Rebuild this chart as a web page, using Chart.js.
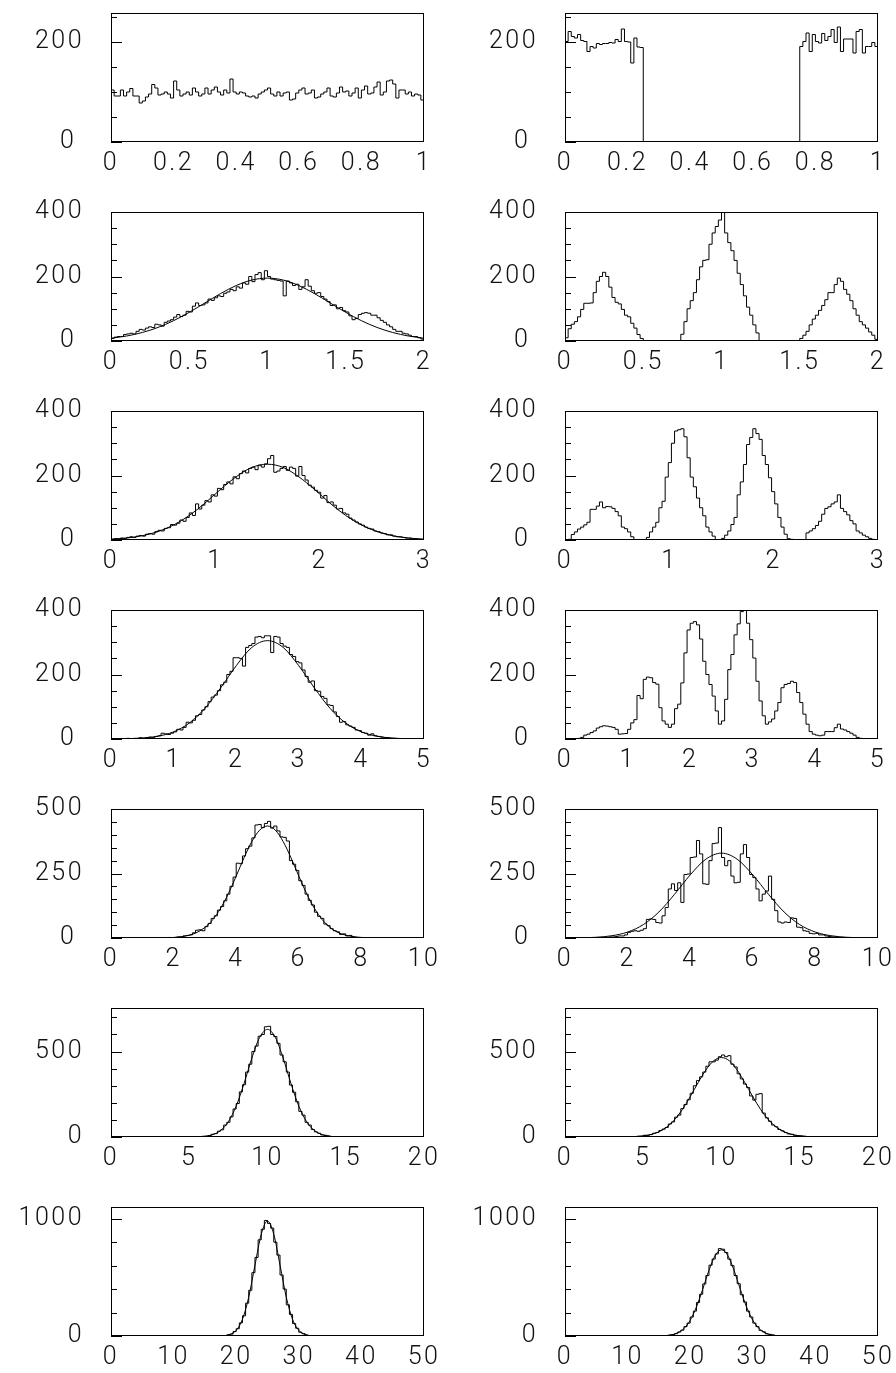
<!DOCTYPE html>
<html><head><meta charset="utf-8">
<script src="https://cdn.jsdelivr.net/npm/chart.js@4/dist/chart.umd.min.js"></script>
<style>
html,body{margin:0;padding:0;background:#fff;overflow:hidden;width:896px;height:1373px;position:relative;}
canvas{position:absolute;}
</style></head><body>
<script>
// ---------------- DATA ----------------
// tick values / labels
const xTicks1 = [0,0.2,0.4,0.6,0.8,1];
const xTicks2 = [0,0.5,1,1.5,2];
const xTicks3 = [0,1,2,3];
const xTicks4 = [0,1,2,3,4,5];
const xTicks5 = [0,2,4,6,8,10];
const xTicks6 = [0,5,10,15,20];
const xTicks7 = [0,10,20,30,40,50];
const yTicks1 = [0,50,100,150,200,250];           const yLabels1 = [0,200];
const yTicks2 = [0,50,100,150,200,250,300,350,400]; const yLabels2 = [0,200,400];
const yTicks3 = [0,50,100,150,200,250,300,350,400]; const yLabels3 = [0,200,400];
const yTicks4 = [0,50,100,150,200,250,300,350,400]; const yLabels4 = [0,200,400];
const yTicks5 = [0,50,100,150,200,250,300,350,400,450,500]; const yLabels5 = [0,250,500];
const yTicks6 = [0,100,200,300,400,500,600,700];  const yLabels6 = [0,500];
const yTicks7 = [0,200,400,600,800,1000];         const yLabels7 = [0,1000];

// histogram contents (100 bins each)
const h1L = [104,92,92,104,92,100,107,92,92,78,82,90,96,115,108,94,96,100,96,88,122,104,92,96,100,94,108,100,92,96,108,96,104,110,100,94,104,98,126,100,96,100,98,92,90,92,88,96,100,104,108,96,92,100,92,98,100,84,86,98,104,108,96,98,104,88,90,96,100,108,92,90,98,110,100,102,92,98,108,88,104,112,96,98,110,120,94,100,122,124,116,88,104,104,96,100,92,96,94,84];
const h1R = [201,221,211,208,215,203,201,181,191,188,197,195,197,197,199,198,205,201,226,201,200,158,208,190,189,
 0,0,0,0,0,0,0,0,0,0,0,0,0,0,0,0,0,0,0,0,0,0,0,0,0,0,0,0,0,0,0,0,0,0,0,0,0,0,0,0,0,0,0,0,0,0,0,0,0,0,
 191,201,218,181,215,201,198,217,203,211,225,199,230,181,206,206,206,178,221,225,178,191,191,199,191];
const h2L = [8,12,14,14,20,22,24,22,30,36,34,40,44,42,52,50,46,58,62,66,74,82,76,80,92,90,108,118,110,112,118,130,126,134,140,138,148,152,160,156,168,164,180,176,200,184,206,212,190,218,
 200,192,190,188,186,140,186,180,172,176,160,168,190,170,156,148,150,138,130,122,110,112,100,104,94,90,78,66,70,82,86,88,86,80,80,72,64,58,50,44,36,30,30,24,22,18,14,14,10,6];
const h2R = [10,38,52,60,75,98,117,117,118,150,185,200,213,200,167,135,120,115,98,80,75,55,40,20,8,
 0,0,0,0,0,0,0,0,0,0,0,0,
 21,60,100,125,150,190,230,250,252,300,335,355,375,400,335,305,280,250,210,175,140,105,80,50,25,
 0,0,0,0,0,0,0,0,0,0,0,0,0,
 8,18,30,50,68,80,95,110,128,150,150,175,195,185,160,145,125,100,80,60,50,40,28,18,5];
const h3L = [2,4,3,6,5,8,10,8,12,14,12,18,20,18,26,30,28,36,38,48,46,52,62,58,70,84,76,112,96,108,122,118,140,136,160,156,172,180,174,196,190,206,214,208,222,226,218,232,226,236,
 252,262,210,214,222,228,216,226,222,198,228,200,186,170,164,154,148,130,138,116,118,108,96,98,84,80,68,62,56,50,46,40,36,34,28,26,22,20,16,16,12,10,10,8,6,6,4,4,2,2];
const h3R = [0,2,17,25,34,40,47,55,95,95,105,118,100,104,103,98,88,75,40,35,25,10,0,0,0,0,8,25,40,55,
 100,120,195,240,300,338,342,345,320,255,195,165,130,100,75,40,25,12,0,0,5,15,28,48,70,140,180,234,296,318,
 345,330,312,262,234,193,150,112,70,40,18,4,2,0,0,0,0,22,28,35,45,58,80,98,103,112,118,140,98,88,
 78,60,50,28,22,15,10,5,2,0];
const h4L = [0,0,0,0,0,2,0,2,2,4,2,4,6,4,8,10,18,16,14,18,22,30,28,36,52,50,58,72,76,90,100,116,130,136,150,168,176,200,210,252,252,250,226,284,290,296,316,318,314,320,
 320,268,318,316,296,288,284,262,256,240,236,214,194,176,180,150,148,132,126,106,104,84,70,52,54,44,40,36,28,26,20,18,12,16,10,8,6,4,4,2,2,0,0,0,0,0,0,0,0,0];
const h4R = [0,0,0,0,2,5,12,15,20,25,34,38,41,40,38,36,30,15,16,17,30,50,60,135,125,185,192,190,175,170,
 97,56,46,36,46,94,108,174,267,338,359,364,354,310,241,200,169,133,87,46,56,123,215,262,323,357,395,400,359,308,
 251,179,118,72,46,53,62,87,113,159,169,172,179,175,144,113,77,46,23,15,12,10,12,23,23,23,35,46,31,28,
 23,18,12,5,2,0,0,0,0,0];
const h5L = [0,0,0,0,0,0,0,0,0,0,0,0,0,0,0,0,0,
 0,2,0,2,4,4,8,10,12,20,30,32,28,44,56,76,86,108,122,144,170,200,236,290,288,318,346,356,388,438,440,428,444,
 452,426,434,415,392,390,376,300,286,262,222,204,170,146,128,100,84,76,54,48,36,28,24,14,16,8,10,4,2,2,2,
 0,0,0,0,0,0,0,0,0,0,0,0,0,0,0,0,0,0,0];
const h5R = [0,0,0,0,0,0,0,0,0,0,2,0,2,2,4,4,6,8,8,12,22,26,28,26,30,36,72,74,72,60,
 58,86,118,190,210,184,214,138,246,248,312,314,378,326,210,208,300,366,368,428,
 312,280,300,240,214,216,326,362,312,246,234,190,144,170,182,240,150,106,62,58,
 62,60,78,76,42,40,28,26,18,16,18,12,12,8,6,4,4,2,2,0,0,0,0,0,0,0,0,0,0,0];
const h6L = [0,0,0,0,0,0,0,0,0,0,0,0,0,0,0,0,0,0,0,0,0,0,0,0,0,0,0,0,
 2,4,4,8,16,20,34,42,70,86,118,164,196,264,306,380,426,500,532,590,600,645,
 648,600,588,548,480,440,380,304,262,206,150,128,86,70,44,30,22,12,10,6,2,2,
 0,0,0,0,0,0,0,0,0,0,0,0,0,0,0,0,0,0,0,0,0,0,0,0,0,0,0,0];
const h6R = [0,0,0,0,0,0,0,0,0,0,0,0,0,0,0,0,0,0,0,
 0,2,2,2,4,4,10,10,14,22,26,38,46,56,76,88,116,128,166,190,218,256,300,330,352,380,414,440,440,450,470,
 480,470,476,426,410,370,340,310,290,240,216,250,254,140,112,92,70,60,44,36,26,18,16,10,8,6,4,2,2,0,0,
 0,0,0,0,0,0,0,0,0,0,0,0,0,0,0,0,0,0,0];
const h7L = [0,0,0,0,0,0,0,0,0,0,0,0,0,0,0,0,0,0,0,0,0,0,0,0,0,0,0,0,0,0,0,0,0,0,0,
 2,4,10,16,38,62,112,172,280,390,540,670,820,910,985,
 960,920,800,690,520,400,266,184,106,66,32,20,8,4,2,0,
 0,0,0,0,0,0,0,0,0,0,0,0,0,0,0,0,0,0,0,0,0,0,0,0,0,0,0,0,0,0,0,0,0,0];
const h7R = [0,0,0,0,0,0,0,0,0,0,0,0,0,0,0,0,0,0,0,0,0,0,0,0,0,0,0,0,0,0,
 0,2,4,8,12,20,34,50,80,110,162,212,286,356,444,516,604,656,700,745,
 740,712,656,600,516,446,352,290,212,162,110,80,48,36,18,14,8,4,2,0,
 0,0,0,0,0,0,0,0,0,0,0,0,0,0,0,0,0,0,0,0,0,0,0,0,0,0,0,0,0,0];

// fitted curves
const f2Lx = [0,0.1,0.2,0.3,0.4,0.5,0.6,0.7,0.8,0.9,1,1.1,1.2,1.3,1.4,1.5,1.6,1.7,1.8,1.9,2];
const f2Ly = [8.6,15.5,26.4,42,63,89,118,147,172,189,195,189,172,147,118,89,63,42,26.4,15.5,8.6];
const f3Lx = [0,0.15,0.3,0.45,0.6,0.75,0.9,1.05,1.2,1.35,1.5,1.65,1.8,1.95,2.1,2.25,2.4,2.55,2.7,2.85,3];
const f3Ly = [2.6,6.1,13.2,26,46.5,76,114,157,196,225,235,225,196,157,114,76,46.5,26,13.2,6.1,2.6];
const f4Lx = [0,0.25,0.5,0.75,1,1.25,1.5,1.75,2,2.25,2.5,2.75,3,3.25,3.5,3.75,4,4.25,4.5,4.75,5];
const f4Ly = [0.2,0.8,2.9,8.6,22.2,49.4,95,158,227,284,305,284,227,158,95,49.4,22.2,8.6,2.9,0.8,0.2];
const f5Lx = [0,0.5,1,1.5,2,2.5,2.75,3,3.25,3.5,3.75,4,4.25,4.5,4.75,5,5.25,5.5,5.75,6,6.25,6.5,6.75,7,7.25,7.5,8,8.5,9,9.5,10];
const f5Ly = [0,0,0,0.3,2.1,10.8,21.8,40.9,71,115,172,240,311,374,418,434,418,374,311,240,172,115,71,40.9,21.8,10.8,2.1,0.3,0,0,0];
const f5Rx = [0,0.5,1,1.5,2,2.5,3,3.5,4,4.5,5,5.5,6,6.5,7,7.5,8,8.5,9,9.5,10];
const f5Ry = [0.2,0.8,2.9,8.8,22.9,51.8,100.8,169.4,244.6,305.5,329,305.5,244.6,169.4,100.8,51.8,22.9,8.8,2.9,0.8,0.2];
const f6Lx = [0,4,4.5,5,5.5,6,6.5,7,7.5,8,8.5,9,9.5,10,10.5,11,11.5,12,12.5,13,13.5,14,14.5,15,15.5,16,20];
const f6Ly = [0,0,0.05,0.26,1.1,4.3,13.8,38,89.6,181,312.5,462,583,630,583,462,312.5,181,89.6,38,13.8,4.3,1.1,0.26,0.05,0,0];
const f6Rx = [0,3,3.5,4,4.5,5,5.5,6,6.5,7,7.5,8,8.5,9,9.5,10,10.5,11,11.5,12,12.5,13,13.5,14,14.5,15,15.5,16,16.5,17,20];
const f6Ry = [0,0.1,0.4,1.0,2.7,6.7,14.9,30.7,58,101,161,236,317,392,446,465,446,392,317,236,161,101,58,30.7,14.9,6.7,2.7,1.0,0.4,0.1,0];
const f7Lx = [0,16,17,18,19,20,21,22,23,24,25,26,27,28,29,30,31,32,33,34,50];
const f7Ly = [0,0.06,0.43,2.6,12.7,48,142,331,604,868,980,868,604,331,142,48,12.7,2.6,0.43,0.06,0];
const f7Rx = [0,14,15,16,17,18,19,20,21,22,23,24,25,26,27,28,29,30,31,32,33,34,35,36,50];
const f7Ry = [0,0.2,0.8,3.0,9.5,26.4,63.7,134,248,399,560,687,735,687,560,399,248,134,63.7,26.4,9.5,3.0,0.8,0.2,0];

// ---------------- LAYOUT ----------------
const rows = [
  {top:13,   xmax:1,  ymax:258,  xt:xTicks1, yt:yTicks1, yl:yLabels1, zs:true},
  {top:212,  xmax:2,  ymax:400,  xt:xTicks2, yt:yTicks2, yl:yLabels2, zs:true},
  {top:411,  xmax:3,  ymax:400,  xt:xTicks3, yt:yTicks3, yl:yLabels3, zs:true},
  {top:610,  xmax:5,  ymax:400,  xt:xTicks4, yt:yTicks4, yl:yLabels4, zs:true},
  {top:809,  xmax:10, ymax:500,  xt:xTicks5, yt:yTicks5, yl:yLabels5, zs:true},
  {top:1008, xmax:20, ymax:755,  xt:xTicks6, yt:yTicks6, yl:yLabels6, zs:false},
  {top:1207, xmax:50, ymax:1100, xt:xTicks7, yt:yTicks7, yl:yLabels7, zs:false}
];
const panels = [
  [h1L,null,null],[h1R,null,null],
  [h2L,f2Lx,f2Ly],[h2R,null,null],
  [h3L,f3Lx,f3Ly],[h3R,null,null],
  [h4L,f4Lx,f4Ly],[h4R,null,null],
  [h5L,f5Lx,f5Ly],[h5R,f5Rx,f5Ry],
  [h6L,f6Lx,f6Ly],[h6R,f6Rx,f6Ry],
  [h7L,f7Lx,f7Ly],[h7R,f7Rx,f7Ry]
];
const colLeft = [111, 565];
const FW = 313, FH = 129, AXW = 111, PADT = 46, PADR = 34, AXH = 48;
const FONT = {family:'Roboto, "Noto Sans", "DejaVu Sans", sans-serif', size:25, weight:'300'};
const TXT = '#111';

function framePlugin(yt, yl){
  return {
    id:'frame',
    beforeDraw(chart){ chart.ctx.letterSpacing = '2.5px'; },
    afterDatasetsDraw(chart){
      const ctx = chart.ctx, a = chart.chartArea, ys = chart.scales.y;
      ctx.save();
      ctx.strokeStyle = '#000'; ctx.lineWidth = 1;
      ctx.strokeRect(Math.round(a.left)+0.5, Math.round(a.top)+0.5, Math.round(a.right-a.left)-1, Math.round(a.bottom-a.top)-1);
      ctx.beginPath();
      yt.forEach(v => {
        const py = Math.round(ys.getPixelForValue(v)) + 0.5;
        const len = yl.includes(v) ? 11 : 6;
        ctx.moveTo(Math.round(a.left), py); ctx.lineTo(Math.round(a.left)+len, py);
      });
      ctx.stroke();
      ctx.restore();
    }
  };
}

panels.forEach((p, idx) => {
  const r = rows[Math.floor(idx/2)], col = idx % 2;
  const [hist, fx, fy] = p;
  const W = AXW + FW + PADR, H = PADT + FH + AXH;
  const cv = document.createElement('canvas');
  cv.width = W; cv.height = H;
  cv.style.width = W+'px'; cv.style.height = H+'px';
  cv.style.left = (colLeft[col] - AXW) + 'px';
  cv.style.top = (r.top - PADT) + 'px';
  document.body.appendChild(cv);

  const bw = r.xmax / hist.length;
  const histPts = hist.map((v,i) => ({x: i*bw, y: v}));
  histPts.push({x: r.xmax, y: hist[hist.length-1]});
  const datasets = [{
    data: histPts, stepped:'before', borderColor:'#000', borderWidth:1,
    pointRadius:0, fill:false, tension:0
  }];
  if (fx) datasets.push({
    data: fx.map((x,i)=>({x, y: fy[i]})), borderColor:'#000', borderWidth:1,
    pointRadius:0, fill:false, cubicInterpolationMode:'monotone'
  });

  new Chart(cv, {
    type:'line',
    data:{datasets},
    plugins:[framePlugin(r.yt, r.yl)],
    options:{
      responsive:false, animation:false, devicePixelRatio:1,
      events:[],
      layout:{autoPadding:false, padding:{top:PADT, right:PADR, left:0, bottom:0}},
      plugins:{legend:{display:false}, tooltip:{enabled:false}, title:{display:false}},
      scales:{
        x:{
          type:'linear', min:0, max:r.xmax,
          grid:{display:false, drawTicks:false}, border:{display:false},
          afterFit: s => { s.height = AXH; },
          afterBuildTicks: s => { s.ticks = r.xt.map(v => ({value:v})); },
          ticks:{autoSkip:false, maxRotation:0, minRotation:0, padding:7, color:TXT, font:FONT,
                 callback: v => String(v)}
        },
        y:{
          type:'linear', min:0, max:r.ymax,
          grid:{display:false, drawTicks:false}, border:{display:false},
          afterFit: s => { s.width = AXW; },
          afterBuildTicks: s => { s.ticks = r.yt.map(v => ({value:v})); },
          ticks:{autoSkip:false, padding:27, color:TXT, font:FONT,
                 callback: v => r.yl.includes(v) ? (v === 0 && r.zs ? '0\u2009' : String(v)) : ''}
        }
      }
    }
  });
});
</script>
</body></html>
